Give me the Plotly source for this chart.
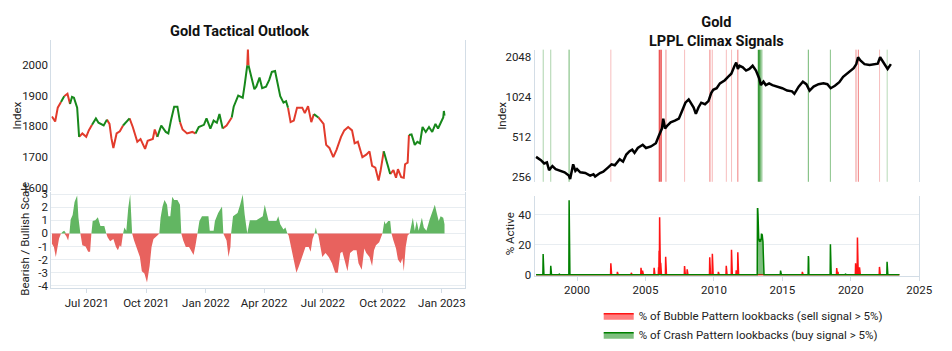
import numpy as np
import pandas as pd
import plotly.graph_objects as go

W, H = 952, 351

# ---------------- Left panel: Gold Tactical Outlook ----------------
price_dates = [
    "2021-05-08","2021-05-13","2021-05-17","2021-05-22","2021-05-27","2021-06-01","2021-06-05","2021-06-08","2021-06-11","2021-06-16",
    "2021-06-19","2021-06-24","2021-06-30","2021-07-04","2021-07-09","2021-07-15","2021-07-19","2021-07-27","2021-08-01","2021-08-05",
    "2021-08-08","2021-08-11","2021-08-16","2021-08-21","2021-08-26","2021-08-31","2021-09-05","2021-09-10","2021-09-17","2021-09-22",
    "2021-09-29","2021-10-03","2021-10-11","2021-10-14","2021-10-18","2021-10-24","2021-10-31","2021-11-04","2021-11-08","2021-11-13",
    "2021-11-18","2021-11-22","2021-11-26","2021-12-03","2021-12-11","2021-12-16","2021-12-21","2021-12-29","2022-01-02","2022-01-08",
    "2022-01-13","2022-01-18","2022-01-22","2022-01-27","2022-02-02","2022-02-10","2022-02-13","2022-02-20","2022-02-27","2022-03-02",
    "2022-03-06","2022-03-07","2022-03-08","2022-03-12","2022-03-17","2022-03-20","2022-03-25","2022-03-29","2022-04-04","2022-04-09",
    "2022-04-13","2022-04-18","2022-04-22","2022-04-26","2022-05-01","2022-05-05","2022-05-08","2022-05-12","2022-05-17","2022-05-22",
    "2022-05-30","2022-06-03","2022-06-08","2022-06-13","2022-06-17","2022-06-24","2022-07-02","2022-07-06","2022-07-11","2022-07-17",
    "2022-07-22","2022-07-29","2022-08-03","2022-08-09","2022-08-15","2022-08-19","2022-08-24","2022-08-31","2022-09-06","2022-09-11",
    "2022-09-15","2022-09-20","2022-09-25","2022-09-28","2022-10-03","2022-10-08","2022-10-13","2022-10-18","2022-10-22","2022-10-25",
    "2022-10-30","2022-11-03","2022-11-05","2022-11-09","2022-11-11","2022-11-15","2022-11-20","2022-11-24","2022-11-28","2022-12-02",
    "2022-12-07","2022-12-12","2022-12-17","2022-12-22","2022-12-26","2022-12-30","2023-01-03","2023-01-04","2023-01-05",
]
price_values = [
    1832,1816,1861,1879,1898,1906,1873,1896,1893,1861,
    1766,1777,1766,1787,1805,1826,1812,1803,1822,1808,
    1761,1730,1777,1784,1803,1814,1826,1798,1750,1759,
    1727,1753,1759,1790,1766,1803,1782,1777,1819,1864,
    1864,1814,1790,1777,1782,1777,1798,1805,1826,1793,
    1819,1812,1840,1793,1803,1829,1864,1900,1893,1935,
    1998,2050,1998,1961,1921,1929,1959,1924,1929,1951,
    1977,1980,1940,1898,1877,1882,1861,1814,1819,1861,
    1861,1843,1866,1814,1840,1829,1808,1740,1730,1700,
    1724,1766,1787,1798,1787,1745,1750,1700,1708,1719,
    1672,1666,1624,1654,1719,1682,1645,1658,1633,1661,
    1635,1633,1677,1682,1772,1774,1740,1750,1745,1798,
    1782,1798,1782,1808,1793,1812,1829,1850,1835,
]
# colour of the line arriving at each point: R = bearish, G = bullish
price_regime = list(
    "RRRRGRRGGG" "GRRRRGGGGR" "RRRRRGGRRR" "RRRRRGGGGG" "GGRRRRGGGG"
    "GGGGRRGGGG" "GRRGGGGGGG" "GGGGGGGRRR" "RRRRRGRRRR" "RRRRRRRRRR"
    "RRRRRGGRRR" "RRRRRGGGGG" "GGGGGGGGG"
)

scale_dates = [
    "2021-05-08","2021-05-11","2021-05-14","2021-05-16","2021-05-19","2021-05-22","2021-05-25","2021-05-27","2021-05-30","2021-06-02",
    "2021-06-04","2021-06-06","2021-06-09","2021-06-12","2021-06-16","2021-06-18","2021-06-21","2021-06-24","2021-06-29","2021-07-03",
    "2021-07-06","2021-07-08","2021-07-10","2021-07-14","2021-07-18","2021-07-22","2021-07-28","2021-07-31","2021-08-02","2021-08-06",
    "2021-08-11","2021-08-15","2021-08-18","2021-08-21","2021-08-23","2021-08-26","2021-08-28","2021-08-31","2021-09-03","2021-09-06",
    "2021-09-09","2021-09-12","2021-09-16","2021-09-21","2021-09-24","2021-09-28","2021-10-02","2021-10-06","2021-10-09","2021-10-12",
    "2021-10-18","2021-10-21","2021-10-23","2021-10-26","2021-10-29","2021-11-02","2021-11-04","2021-11-07","2021-11-10","2021-11-13",
    "2021-11-18","2021-11-22","2021-11-24","2021-11-27","2021-12-01","2021-12-06","2021-12-09","2021-12-13","2021-12-16","2021-12-19",
    "2021-12-22","2021-12-26","2022-01-05","2022-01-07","2022-01-13","2022-01-15","2022-01-20","2022-01-26","2022-01-28","2022-02-02",
    "2022-02-05","2022-02-08","2022-02-09","2022-02-12","2022-02-15","2022-02-19","2022-02-23","2022-02-27","2022-03-02","2022-03-06",
    "2022-03-10","2022-03-20","2022-03-30","2022-04-02","2022-04-05","2022-04-08","2022-04-20","2022-04-23","2022-04-26","2022-05-01",
    "2022-05-04","2022-05-07","2022-05-09","2022-05-13","2022-05-18","2022-05-21","2022-05-25","2022-05-30","2022-06-04","2022-06-09",
    "2022-06-12","2022-06-15","2022-06-18","2022-06-20","2022-06-22","2022-06-24","2022-06-27","2022-06-30","2022-07-05","2022-07-10",
    "2022-07-15","2022-07-20","2022-07-24","2022-07-28","2022-07-31","2022-08-04","2022-08-08","2022-08-12","2022-08-17","2022-08-22",
    "2022-08-25","2022-08-30","2022-09-03","2022-09-06","2022-09-11","2022-09-15","2022-09-18","2022-09-21","2022-09-26","2022-10-01",
    "2022-10-04","2022-10-06","2022-10-10","2022-10-13","2022-10-15","2022-10-18","2022-10-22","2022-10-25","2022-10-29","2022-11-01",
    "2022-11-03","2022-11-06","2022-11-09","2022-11-12","2022-11-14","2022-11-17","2022-11-20","2022-11-23","2022-11-26","2022-12-01",
    "2022-12-04","2022-12-08","2022-12-13","2022-12-18","2022-12-21","2022-12-24","2022-12-27","2022-12-30","2023-01-03","2023-01-05",
]
scale_values = [
    -0.8,-1.04,-1.8,-1.3,-0.4,0,0.15,0.2,-0.2,-0.55,
    0,1.06,1.4,2.4,2.9,1.2,0,-0.9,-1.0,-1.4,
    -1.4,0,0.94,1.0,1.24,0.57,0.57,0,-0.3,-0.6,
    -0.42,-1.04,-1.29,-0.9,-1.04,0,0.45,0.2,1.93,2.97,
    0,-0.55,-1.04,-1.8,-2.9,-3.07,-3.76,-2.5,-1.04,-0.42,
    -0.17,0,1.19,2.05,2.55,2.18,1.31,1.31,2.8,2.55,
    2.55,2.18,0,-0.55,-1.04,-1.04,-1.29,-1.66,-0.9,0,
    0.94,1.31,1.31,0.2,0.2,0.94,1.56,2.05,0,-0.55,
    -1.8,-1.04,0,1.31,1.44,1.56,2.18,2.97,1.44,-0.05,
    1.0,1.0,1.31,2.18,1.56,0.94,0.94,1.31,0.7,0.3,
    0.45,0,-0.17,-1.04,-2.15,-3.0,-2.5,-1.8,-1.04,-1.04,
    -1.4,-0.42,0,0.45,0,-0.17,-1.16,-1.8,-1.5,-1.8,
    -2.28,-3.0,-3.0,-1.5,-1.4,-2.28,-2.9,-1.5,-1.29,-1.29,
    -2.28,-2.77,-1.16,-1.5,-1.8,-2.5,-1.29,-0.9,-0.67,0,
    0.94,0.7,0.94,0.94,0,-0.55,-1.16,-2.0,-2.28,-1.9,
    -2.9,-1.04,-0.17,0,0.45,1.19,0.2,0.94,0.2,1.19,
    0.45,0.2,1.06,1.8,2.18,1.56,0.94,1.31,1.19,0.7,
]

left_ticks = ["2021-07-01","2021-10-01","2022-01-01","2022-04-01","2022-07-01","2022-10-01","2023-01-01"]

# ---------------- Right panel: Gold LPPL Climax Signals ----------------
gold_dates = [
    "1997-01-03","1997-05-12","1997-08-08","1997-10-20","1997-12-16","1998-03-15","1998-06-10","1998-10-20","1999-02-03","1999-05-27",
    "1999-07-01","1999-09-20","1999-10-20","1999-11-18","2000-01-01","2000-03-28","2000-08-07","2000-12-16","2001-03-15","2001-04-28",
    "2001-09-05","2001-12-01","2002-04-12","2002-07-08","2002-10-04","2003-02-13","2003-05-12","2003-08-08","2003-11-03","2004-01-12",
    "2004-03-14","2004-06-10","2004-10-19","2005-01-15","2005-05-27","2005-10-05","2005-12-13","2006-03-15","2006-04-20","2006-06-07",
    "2006-08-08","2006-11-03","2007-02-24","2007-06-10","2007-09-06","2007-12-02","2008-02-28","2008-05-08","2008-07-09","2008-09-06",
    "2008-11-14","2009-01-27","2009-05-08","2009-08-08","2009-10-20","2009-12-13","2010-03-15","2010-06-10","2010-10-20","2011-01-12",
    "2011-04-10","2011-07-06","2011-08-19","2011-10-01","2011-11-14","2012-02-10","2012-05-08","2012-08-04","2012-10-30","2013-01-27",
    "2013-04-23","2013-06-07","2013-08-15","2013-10-16","2014-01-12","2014-04-10","2014-08-19","2014-12-28","2015-05-08","2015-09-16",
    "2015-11-17","2016-03-11","2016-07-01","2016-10-01","2016-12-28","2017-04-13","2017-08-22","2018-01-01","2018-04-16","2018-07-13",
    "2018-11-03","2019-02-28","2019-06-10","2019-09-24","2020-01-19","2020-03-18","2020-05-27","2020-07-13","2020-09-13","2021-01-01",
    "2021-05-16","2021-09-24","2021-12-20","2022-02-21","2022-06-14","2022-09-09","2022-12-06",
]
gold_values = [
    362,342,323,329,288,309,293,284,277,262,
    247,318,302,284,293,277,274,262,268,258,
    274,280,302,318,313,347,333,377,399,410,
    388,422,446,422,433,458,512,590,700,590,
    622,657,676,700,803,922,975,898,849,760,
    849,922,898,948,1090,1152,1184,1287,1360,1440,
    1520,1745,1845,1650,1745,1700,1607,1650,1745,1607,
    1400,1250,1325,1250,1287,1250,1217,1184,1137,1121,
    1075,1217,1325,1270,1137,1217,1270,1287,1270,1184,
    1235,1314,1440,1520,1607,1675,1795,2020,1910,1795,
    1770,1795,1810,2020,1795,1650,1795,
]

bubble_dates = [
    "2002-06-21","2002-12-13","2003-12-19","2004-09-03","2004-10-15","2005-08-19",
    "2005-12-16","2005-12-30","2006-01-13","2006-01-27","2006-02-10","2006-06-23",
    "2007-11-09","2008-01-18","2009-09-11","2009-11-20","2010-04-30","2010-11-26",
    "2011-04-15","2011-08-19","2011-09-30","2011-10-14","2016-06-17","2018-12-21",
    "2019-01-25","2020-05-08","2020-06-26","2020-08-21","2022-02-04",
]
bubble_values = [
    7.7,1.9,1.3,4.6,2.8,4.6,
    5,16,38.3,20,8,12,
    5.8,3.6,11.7,14,1.9,6,
    16.6,3,15,3,1.9,4.5,
    1.9,7.6,24.8,5,5.2,
]
crash_dates = [
    "1997-07-11","1998-01-30","1998-09-11","1999-06-04",
    "2013-03-08","2013-03-15","2013-03-22","2013-03-29","2013-04-05","2013-04-12","2013-04-19","2013-04-26",
    "2013-05-03","2013-05-10","2013-05-17","2013-05-24","2013-05-31","2013-06-07","2013-06-14","2013-06-21",
    "2013-06-28","2013-07-05","2013-07-12","2013-07-19","2013-07-26","2013-08-02","2013-08-09",
    "2014-11-14","2016-11-25","2016-12-02","2018-07-06","2019-08-09","2022-08-26","2022-09-02",
]
crash_values = [
    13.8,6.0,0.6,49.7,
    44,44,40,24,23,23,24,23,
    22,23,24,23,22,24,23,27,
    27,26,27,25,24,22,15,
    2.8,12.5,11,20.4,0.6,8.6,1.0,
]
signal_start, signal_end = "1997-01-03", "2023-07-21"

# signal markers drawn on the price chart (date, strength 0..1)
bubble_line_dates = ["2002-06-21","2006-01-08","2006-02-21","2006-07-01","2007-11-10","2009-09-16",
                     "2009-11-17","2010-11-28","2011-04-16","2011-10-01","2020-05-19","2020-07-20","2022-02-06"]
bubble_line_strength = [0.3,0.8,0.8,0.5,0.3,0.6,0.35,0.3,0.3,0.6,0.5,0.6,0.3]
crash_line_dates = ["1997-07-13","1998-01-30","1999-06-03","2013-04-05","2013-05-12","2013-07-02",
                    "2016-11-24","2018-07-05","2022-08-29"]
crash_line_strength = [0.35,0.35,0.6,0.85,0.85,0.6,0.6,0.5,0.3]

right_ticks = ["2000-01-01","2005-01-01","2010-01-01","2015-01-01","2020-01-01","2025-01-01"]

# ---------------- styling ----------------
FONT = "Roboto"
TXT = "#222222"
AXLINE = "#d3dde6"
GRID = "#e8edf1"
RED_LINE = "#e23b2c"
GREEN_LINE = "#17881b"
RED_FILL = "#e8625e"
GREEN_FILL = "#62b662"


def regime_trace(code):
    xs, ys = [], []
    prev = False
    for i in range(1, len(price_dates)):
        if price_regime[i] == code:
            if not prev:
                if xs:
                    xs.append(None); ys.append(None)
                xs.append(price_dates[i - 1]); ys.append(price_values[i - 1])
            xs.append(price_dates[i]); ys.append(price_values[i])
            prev = True
        else:
            prev = False
    return xs, ys


fig = go.Figure()

for code, col in (("R", RED_LINE), ("G", GREEN_LINE)):
    xs, ys = regime_trace(code)
    fig.add_trace(go.Scatter(x=xs, y=ys, mode="lines", line=dict(color=col, width=2),
                             xaxis="x", yaxis="y", showlegend=False, hoverinfo="skip"))

sv = np.array(scale_values, dtype=float)
fig.add_trace(go.Scatter(x=scale_dates, y=np.clip(sv, 0, None), mode="lines", fill="tozeroy",
                         line=dict(width=0, color=GREEN_FILL), fillcolor=GREEN_FILL,
                         xaxis="x2", yaxis="y2", showlegend=False, hoverinfo="skip"))
fig.add_trace(go.Scatter(x=scale_dates, y=np.clip(sv, None, 0), mode="lines", fill="tozeroy",
                         line=dict(width=0, color=RED_FILL), fillcolor=RED_FILL,
                         xaxis="x2", yaxis="y2", showlegend=False, hoverinfo="skip"))

# right: price
fig.add_trace(go.Scatter(x=gold_dates, y=gold_values, mode="lines", line=dict(color="black", width=2.5),
                         xaxis="x3", yaxis="y3", showlegend=False, hoverinfo="skip"))

# right: signals on weekly grid
grid = pd.date_range(signal_start, signal_end, freq="7D")


def weekly(dates, vals):
    arr = np.zeros(len(grid))
    for d, v in zip(dates, vals):
        i = int(np.argmin(np.abs((grid - pd.Timestamp(d)).days)))
        arr[i] = max(arr[i], v)
    return arr


fig.add_trace(go.Scatter(x=grid, y=weekly(bubble_dates, bubble_values), mode="lines", fill="tozeroy",
                         line=dict(color="#ff1414", width=1.5), fillcolor="rgba(255,0,0,0.5)",
                         name="% of Bubble Pattern lookbacks (sell signal > 5%)",
                         xaxis="x4", yaxis="y4", hoverinfo="skip"))
fig.add_trace(go.Scatter(x=grid, y=weekly(crash_dates, crash_values), mode="lines", fill="tozeroy",
                         line=dict(color="#008000", width=1.5), fillcolor="rgba(0,128,0,0.5)",
                         name="% of Crash Pattern lookbacks (buy signal > 5%)",
                         xaxis="x4", yaxis="y4", hoverinfo="skip"))

shapes = []
for dates, strengths, rgb in ((bubble_line_dates, bubble_line_strength, "230,40,40"),
                              (crash_line_dates, crash_line_strength, "20,135,20")):
    for d, s in zip(dates, strengths):
        shapes.append(dict(type="line", xref="x3", yref="y3 domain", x0=d, x1=d, y0=0, y1=1,
                           line=dict(color=f"rgba({rgb},{s:.2f})", width=1.5 if s >= 0.8 else 1),
                           layer="below"))

tickfont = dict(family=FONT, size=11.5, color=TXT)
LX = [52 / W, 471 / W]
RX = [542 / W, 932 / W]
LRANGE = ["2021-05-07", "2023-02-05"]
RRANGE = ["1996-11-25", "2025-01-01"]

fig.update_layout(
    width=W, height=H, margin=dict(l=0, r=0, t=0, b=0),
    paper_bgcolor="white", plot_bgcolor="white",
    font=dict(family=FONT, size=11.5, color=TXT),
    shapes=shapes,
    xaxis=dict(domain=LX, range=LRANGE, type="date", anchor="y", showticklabels=False,
               showgrid=False, zeroline=False, showline=False),
    yaxis=dict(domain=[1 - 192.5 / H, 1 - 37.3 / H], range=[1590, 2080], anchor="x",
               tickvals=[1600, 1700, 1800, 1900, 2000], showgrid=False, zeroline=False,
               showline=True, mirror=True, linecolor=AXLINE, tickfont=tickfont),
    xaxis2=dict(domain=LX, range=LRANGE, type="date", anchor="y2", tickvals=left_ticks,
                tickformat="%b %Y", showgrid=False, zeroline=False, showline=True, linecolor=AXLINE,
                ticks="outside", ticklen=4, tickcolor=AXLINE, tickfont=tickfont),
    yaxis2=dict(domain=[1 - 292.7 / H, 1 - 193 / H], range=[-4.2, 3.2], anchor="x2",
                tickvals=[-4, -3, -2, -1, 0, 1, 2, 3], ticktext=["-4", "-3", "-2", "-1", "0", "1", "2", "3"],
                showgrid=True, gridcolor=GRID, zeroline=False,
                showline=True, mirror=True, linecolor=AXLINE, tickfont=tickfont),
    xaxis3=dict(domain=RX, range=RRANGE, type="date", anchor="y3", showticklabels=False,
                showgrid=False, zeroline=False, showline=False),
    yaxis3=dict(domain=[1 - 183 / H, 1 - 47 / H], type="log", range=[2.3718, 3.3624], anchor="x3",
                tickvals=[256, 512, 1024, 2048], showgrid=False, zeroline=False,
                showline=True, mirror=True, linecolor=AXLINE, tickfont=tickfont),
    xaxis4=dict(domain=RX, range=RRANGE, type="date", anchor="y4", tickvals=right_ticks,
                tickformat="%Y", showgrid=False, zeroline=False, showline=True, linecolor=AXLINE,
                ticks="outside", ticklen=4, tickcolor=AXLINE, tickfont=tickfont),
    yaxis4=dict(domain=[1 - 279.6 / H, 1 - 197.7 / H], range=[-0.6, 52.5], anchor="x4",
                tickvals=[0, 20, 40], showgrid=True, gridcolor=GRID, zeroline=False,
                showline=True, mirror=True, linecolor=AXLINE, tickfont=tickfont),
    legend=dict(x=607 / W, y=1 - 306 / H, xanchor="left", yanchor="top",
                bgcolor="rgba(0,0,0,0)", font=dict(family=FONT, size=11.5, color=TXT),
                tracegroupgap=0),
    annotations=[
        dict(text="<b>Gold Tactical Outlook</b>", x=243 / W, y=1 - 28 / H, xref="paper", yref="paper",
             showarrow=False, xanchor="center", yanchor="middle", font=dict(family=FONT, size=14.5, color="#111")),
        dict(text="<b>Gold</b><br><b>LPPL Climax Signals</b>", x=726 / W, y=1 - 28.5 / H, xref="paper", yref="paper",
             showarrow=False, xanchor="center", yanchor="middle", font=dict(family=FONT, size=14.5, color="#111")),
        dict(text="Index", x=17 / W, y=1 - 115 / H, xref="paper", yref="paper", textangle=-90,
             showarrow=False, xanchor="center", yanchor="middle", font=dict(family=FONT, size=11.5, color=TXT)),
        dict(text="Bearish / Bullish Scale", x=25 / W, y=1 - 242 / H, xref="paper", yref="paper", textangle=-90,
             showarrow=False, xanchor="center", yanchor="middle", font=dict(family=FONT, size=11.5, color=TXT)),
        dict(text="Index", x=509 / W, y=1 - 115 / H, xref="paper", yref="paper", textangle=-90,
             showarrow=False, xanchor="center", yanchor="middle", font=dict(family=FONT, size=11.5, color=TXT)),
        dict(text="% Active", x=517 / W, y=1 - 236 / H, xref="paper", yref="paper", textangle=-90,
             showarrow=False, xanchor="center", yanchor="middle", font=dict(family=FONT, size=11.5, color=TXT)),
    ],
)

fig.write_html("out.html")
